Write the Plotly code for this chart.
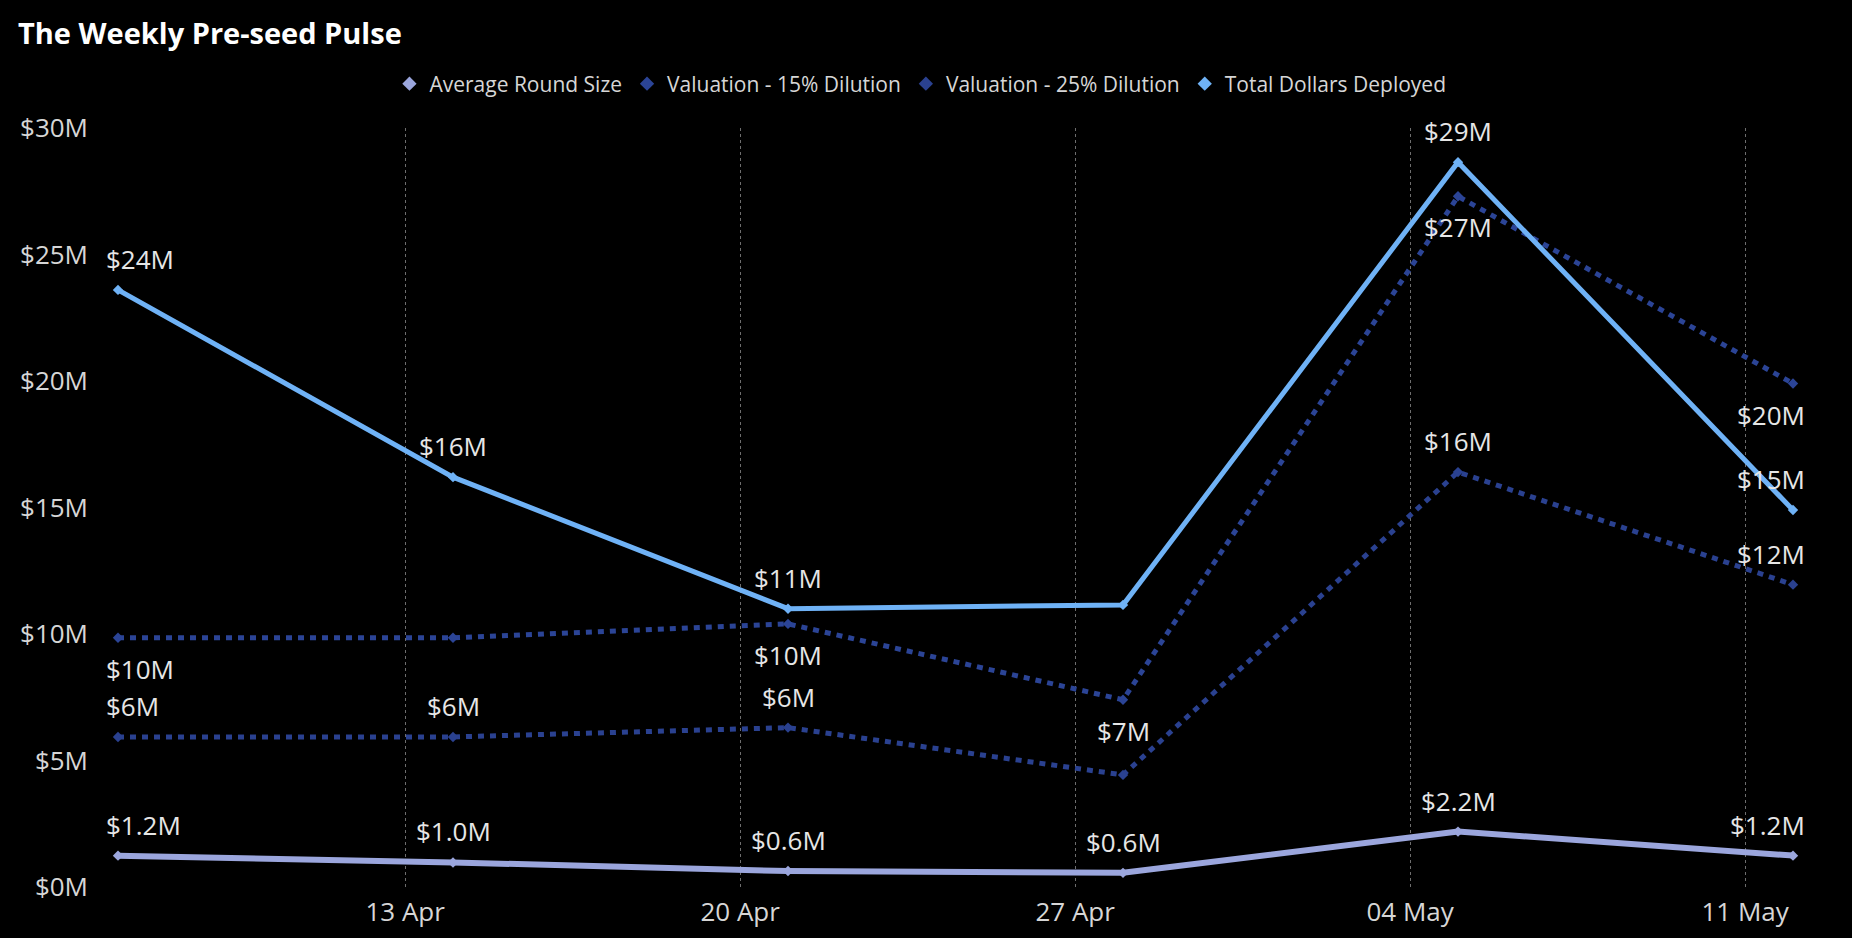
import plotly.graph_objects as go

# weekly data, values in $M
weeks = ['2024-04-07', '2024-04-14', '2024-04-21', '2024-04-28', '2024-05-05', '2024-05-12']
avg_round = [1.24, 0.97, 0.63, 0.56, 2.19, 1.24]
val_15 = [9.85, 9.85, 10.4, 7.4, 27.3, 19.9]
val_25 = [5.93, 5.93, 6.3, 4.43, 16.4, 11.95]
total_deployed = [23.6, 16.2, 11.0, 11.15, 28.65, 14.9]
y_ticks = [0, 5, 10, 15, 20, 25, 30]

# which points get a data label (Power BI dropped the overlapping ones)
avg_shown = [1, 1, 1, 1, 1, 1]
val15_shown = [1, 0, 1, 1, 1, 1]
val25_shown = [1, 1, 1, 0, 1, 1]
total_shown = [1, 1, 1, 0, 1, 1]

series = [
    # name, values, shown, color, dash, width, label side, decimals
    ('Average Round Size', avg_round, avg_shown, '#9BA6DD', 'solid', 6, 1, 1),
    ('Valuation - 15% Dilution', val_15, val15_shown, '#2B4496', '6px,6px', 5, -1, 0),
    ('Valuation - 25% Dilution', val_25, val25_shown, '#2A4190', '6px,6px', 5, 1, 0),
    ('Total Dollars Deployed', total_deployed, total_shown, '#6FB2F6', 'solid', 5, 1, 0),
]

fig = go.Figure()
annotations = []

for name, vals, shown, color, dash, width, side, dec in series:
    # the line itself
    fig.add_trace(go.Scatter(
        x=weeks, y=vals, mode='lines+markers',
        line=dict(color=color, width=width, dash=dash),
        marker=dict(symbol='diamond', size=8, color=color),
        cliponaxis=False, showlegend=False, hoverinfo='skip'))
    # legend entry: just the diamond
    fig.add_trace(go.Scatter(
        x=[None], y=[None], mode='markers', name=name,
        marker=dict(symbol='diamond', size=11, color=color)))
    # data labels
    n = len(vals)
    for i, (d, v, s) in enumerate(zip(weeks, vals, shown)):
        if not s:
            continue
        if i == 0:
            xa, xs = 'left', -14
        elif i == n - 1:
            xa, xs = 'right', 14
        else:
            xa, xs = 'center', 0
        annotations.append(dict(
            x=d, y=v, xref='x', yref='y', text=f'${v:.{dec}f}M',
            showarrow=False, xanchor=xa, yanchor='middle',
            xshift=xs, yshift=31 * side,
            font=dict(size=26, color='#E6E6E6')))

fig.update_layout(
    width=1852, height=938,
    paper_bgcolor='#000000', plot_bgcolor='#000000',
    font=dict(family='Segoe UI, Open Sans, sans-serif', color='#D6D6D6'),
    margin=dict(l=118, r=59, t=128, b=51, autoexpand=False),
    title=dict(text='<b>The Weekly Pre-seed Pulse</b>', x=18 / 1852, xanchor='left',
               y=1 - 34 / 938, yanchor='middle',
               font=dict(size=29, color='#FFFFFF')),
    legend=dict(orientation='h', xref='container', yref='container',
                x=0.497, xanchor='center', y=1 - 84 / 938, yanchor='middle',
                font=dict(size=21, color='#D6D6D6'), itemwidth=30,
                bgcolor='rgba(0,0,0,0)'),
    annotations=annotations,
    showlegend=True,
)

fig.update_xaxes(
    type='date', range=[weeks[0], weeks[-1]],
    tick0='2024-04-13', dtick=7 * 24 * 3600 * 1000, tickformat='%d %b',
    showgrid=True, gridcolor='#6E6E6E', griddash='dot', gridwidth=1,
    zeroline=False, showline=False, ticks='',
    ticklabelstandoff=7,
    tickfont=dict(size=26, color='#D6D6D6'))

fig.update_yaxes(
    range=[0, 30], tickvals=y_ticks, ticktext=[f'${t}M' for t in y_ticks],
    showgrid=False, zeroline=False, showline=False, ticks='',
    ticklabelstandoff=29,
    tickfont=dict(size=26, color='#D6D6D6'))

# page margin off so the figure sits flush in the window
fig.write_html('out.html', config={'displayModeBar': False},
               post_script="document.body.style.margin='0';document.body.style.background='#000';")
